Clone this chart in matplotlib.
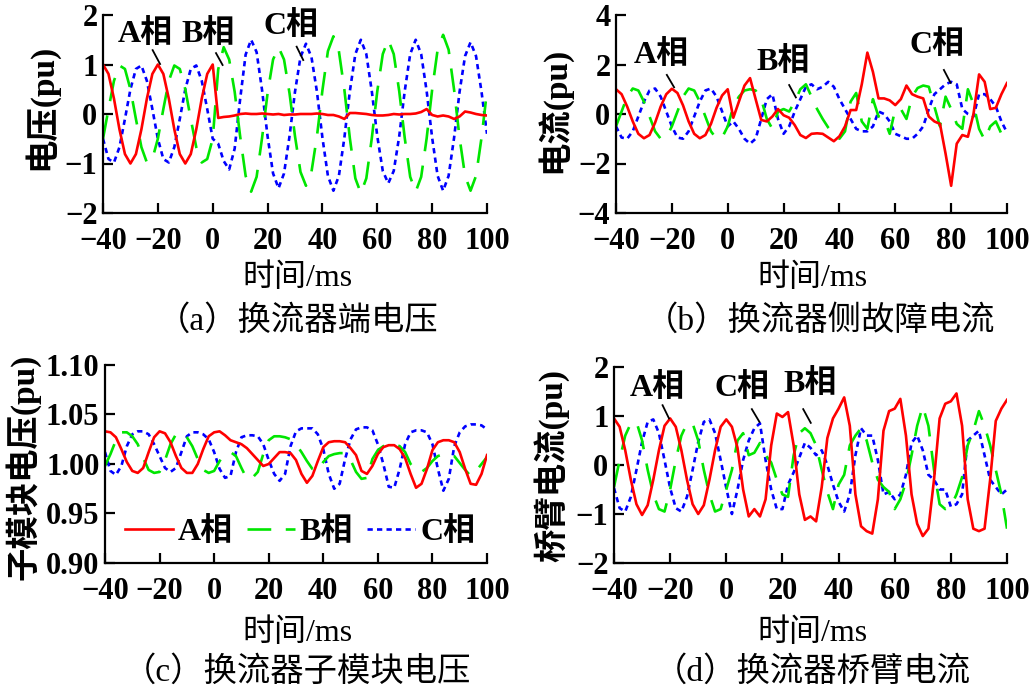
import numpy as np
import matplotlib
matplotlib.use('Agg')
import matplotlib.pyplot as plt

plt.rcParams['font.family'] = ['Liberation Serif', 'Noto Sans CJK SC']
plt.rcParams['axes.unicode_minus'] = True

# time axis, ms (sampled every 2 ms)
t_ms = np.arange(-40, 101, 2)

# (a) converter terminal voltage, pu
va_A = [1.0, 0.81, 0.31, -0.31, -0.81, -1.0, -0.81, -0.31, 0.31, 0.81, 1.0, 0.81, 0.31, -0.31, -0.81, -1.0, -0.81, -0.31, 0.31, 0.81, 1.0,
        -0.08, -0.06, -0.05, -0.03, 0.0, 0.01, 0.0, 0.0, 0.01, 0.0,
        -0.01, 0.0, -0.02, -0.01, -0.01, 0.0, 0.0, 0.0, 0.01, 0.0,
        -0.02, -0.02, -0.05, -0.1, 0.02, 0.02, 0.01, 0.0, -0.02, -0.03,
        -0.03, -0.02, 0.0, -0.01, 0.0, 0.0, 0.01, 0.04, 0.1, -0.02,
        -0.05, -0.03, -0.05, -0.1, -0.05, 0.05, 0.03, 0.0, -0.02, -0.03]
va_B = [-0.5, 0.1, 0.67, 0.98, 0.91, 0.5, -0.1, -0.67, -0.98, -0.91, -0.5, 0.1, 0.67, 0.98, 0.91, 0.5, -0.1, -0.67, -0.98, -0.91, -0.5,
        0.9, 1.35, 1.1, 0.45, -0.45, -1.25, -1.57, -1.27, -0.48, 0.42,
        1.1, 1.35, 1.1, 0.42, -0.45, -1.17, -1.45, -1.17, -0.45, 0.48,
        1.27, 1.57, 1.27, 0.49, -0.49, -1.3, -1.6, -1.3, -0.49, 0.46,
        1.21, 1.5, 1.21, 0.46, -0.48, -1.27, -1.57, -1.27, -0.49, 0.49,
        1.3, 1.6, 1.3, 0.49, -0.48, -1.25, -1.55, -1.25, -0.48, 0.46]
va_C = [-0.5, -0.91, -0.98, -0.67, -0.1, 0.5, 0.91, 0.98, 0.67, 0.1, -0.5, -0.91, -0.98, -0.67, -0.1, 0.5, 0.91, 0.98, 0.67, 0.1, -0.5,
        -0.6, -0.95, -1.12, -0.7, 0.3, 1.2, 1.5, 1.25, 0.48, -0.45,
        -1.2, -1.5, -1.2, -0.45, 0.45, 1.15, 1.42, 1.15, 0.45, -0.48,
        -1.25, -1.55, -1.25, -0.48, 0.46, 1.21, 1.5, 1.21, 0.46, -0.45,
        -1.15, -1.4, -1.15, -0.45, 0.46, 1.21, 1.5, 1.21, 0.46, -0.48,
        -1.25, -1.55, -1.25, -0.48, 0.45, 1.17, 1.45, 1.17, 0.45, -0.4]

# (b) converter-side fault current, pu
ib_A = [1.0, 0.8, 0.3, -0.3, -0.8, -0.98, -0.85, -0.35, 0.3, 0.8, 1.02, 0.85, 0.35, -0.3, -0.8, -0.98, -0.85, -0.4, 0.25, 0.75, 1.0,
        -0.15, 0.5, 1.15, 1.45, 0.6, -0.24, -0.3, -0.1, 0.2, -0.05,
        -0.15, -0.45, -0.85, -0.97, -0.8, -0.78, -0.8, -0.95, -1.1, -0.9,
        -0.5, 0.16, 0.16, 1.2, 2.48, 1.7, 0.63, 0.63, 0.55, 0.36,
        0.6, 1.15, 0.8, 0.7, 0.63, -0.1, -0.3, -0.4, -1.6, -2.9,
        -1.2, -0.85, -0.92, 0.0, 1.6, 1.3, 0.2, 0.25, 0.8, 1.25]
ib_B = [-0.5, 0.1, 0.7, 1.03, 0.95, 0.5, -0.1, -0.7, -1.0, -0.95, -0.5, 0.1, 0.7, 1.03, 0.95, 0.5, -0.1, -0.7, -1.0, -0.95, -0.5,
        0.3, 0.7, 0.95, 1.0, 0.95, 0.6, -0.2, -0.6, 0.1, 0.2,
        0.1, 0.5, 1.0, 1.2, 0.7, 0.2, -0.2, -0.55, -0.8, -1.0,
        -0.7, 0.5, 0.85, -0.3, -0.6, 0.6, -0.1, -0.2, -0.8, 0.2,
        0.2, -0.2, 0.7, 1.05, 1.15, 1.1, 0.3, -0.5, 0.7, 0.2,
        -0.4, -0.6, 1.0, 0.4, -0.6, -1.05, -0.5, -0.3, -0.8, -0.8]
ib_C = [-0.5, -0.95, -1.0, -0.7, -0.1, 0.5, 0.95, 1.03, 0.7, 0.1, -0.5, -0.95, -1.0, -0.7, -0.1, 0.5, 0.95, 1.03, 0.7, 0.1, -0.5,
        -0.3, -0.6, -1.0, -1.2, -1.0, -0.2, 0.6, 0.8, -0.2, -0.8,
        -0.5, 0.1, 0.6, 1.1, 1.2, 1.0, 1.1, 1.3, 1.1, 0.6,
        0.2, -0.2, -0.6, -0.7, -0.7, -0.5, 0.1, 0.0, -0.3, -0.8,
        -0.9, -1.0, -1.0, -0.8, -0.5, 0.2, 0.8, 1.0, 1.2, 1.3,
        1.2, 0.2, 0.0, -0.1, 0.8, 0.8, 0.6, 0.3, -0.3, -0.75]

# (c) submodule capacitor voltage, pu
vc_A = [1.033, 1.032, 1.027, 1.015, 1.002, 0.993, 0.991, 0.996, 1.012, 1.027, 1.033, 1.031, 1.022, 1.008, 0.996, 0.991, 0.991, 1.0, 1.015, 1.028, 1.032,
        1.033, 1.029, 1.024, 1.022, 1.02, 1.016, 1.01, 1.004, 0.998, 1.0,
        1.006, 1.012, 1.012, 1.011, 1.004, 0.99, 0.981, 0.988, 1.003, 1.017,
        1.022, 1.023, 1.023, 1.022, 1.016, 1.009, 0.993, 0.99, 0.998, 1.01,
        1.017, 1.019, 1.019, 1.015, 1.006, 0.99, 0.976, 0.98, 0.995, 1.014,
        1.022, 1.024, 1.024, 1.022, 1.012, 0.995, 0.98, 0.979, 0.99, 1.009]
vc_B = [0.998, 1.01, 1.024, 1.032, 1.032, 1.028, 1.02, 1.006, 0.994, 0.991, 0.992, 1.004, 1.02, 1.03, 1.032, 1.027, 1.018, 1.005, 0.994, 0.991, 0.993,
        1.003, 1.01, 1.012, 1.008, 0.996, 0.985, 0.986, 0.992, 1.01, 1.024,
        1.028, 1.028, 1.027, 1.025, 1.02, 1.012, 1.003, 0.995, 0.993, 1.002,
        1.008, 1.01, 1.011, 1.011, 1.004, 0.992, 0.985, 0.986, 1.005, 1.014,
        1.018, 1.02, 1.02, 1.018, 1.012, 1.0, 0.993, 0.992, 0.996, 1.003,
        1.008, 1.01, 1.01, 1.008, 1.001, 0.994, 0.988, 0.993, 1.0, 1.007]
vc_C = [1.012, 0.993, 0.989, 0.998, 1.018, 1.03, 1.033, 1.033, 1.03, 1.02, 1.008, 0.996, 0.992, 0.996, 1.012, 1.028, 1.032, 1.032, 1.03, 1.025, 1.012,
        0.995, 0.986, 0.988, 1.012, 1.027, 1.029, 1.029, 1.028, 1.02, 1.004,
        0.99, 0.983, 0.99, 1.018, 1.033, 1.036, 1.036, 1.036, 1.03, 1.015,
        0.99, 0.975, 0.98, 1.005, 1.025, 1.035, 1.037, 1.037, 1.034, 1.02,
        1.0, 0.977, 0.976, 0.995, 1.02, 1.032, 1.034, 1.034, 1.032, 1.02,
        0.995, 0.973, 0.985, 1.018, 1.032, 1.038, 1.04, 1.04, 1.039, 1.035]

# (d) converter arm current, pu
id_A = [0.95, 0.78, 0.3, -0.3, -0.8, -1.02, -0.82, -0.3, 0.3, 0.8, 0.95, 0.78, 0.3, -0.3, -0.8, -1.0, -0.82, -0.3, 0.3, 0.78, 0.93,
        0.78, 0.35, -0.5, -1.05, -0.9, -1.05, -0.7, 0.4, 1.05, 0.98,
        1.08, 0.4, -0.6, -1.12, -1.05, -1.15, -0.45, 0.55, 0.95, 1.15,
        1.38, 0.8, -0.6, -1.25, -1.35, -1.4, -0.7, 0.7, 1.1, 1.15,
        1.35, 0.6, -0.6, -1.2, -1.45, -1.3, -0.3, 0.95, 1.25, 1.3,
        1.46, 0.8, -0.7, -1.3, -1.35, -1.3, -0.3, 0.9, 1.15, 1.33]
id_B = [-0.45, 0.1, 0.6, 0.85, 0.88, 0.5, -0.1, -0.6, -0.9, -0.95, -0.5, 0.1, 0.6, 0.85, 0.85, 0.5, -0.1, -0.6, -0.95, -0.9, -0.5,
        -0.1, 0.5, 0.65, 0.2, 0.25, 0.45, 0.2, 0.05, -0.3, -0.6,
        -0.65, 0.2, 0.65, 0.75, 0.65, 0.4, -0.1, -0.55, -0.9, -0.4,
        -0.2, 0.4, 0.6, 0.75, 0.5, 0.05, -0.3, -0.45, -0.55, -0.9,
        -0.7, -0.35, 0.2, 0.8, 1.2, 0.8, -0.1, -0.8, -0.9, -0.85,
        -0.6, -0.25, 0.4, 0.7, 1.1, 0.8, 0.4, -0.1, -0.6, -1.3]
id_C = [-0.47, -0.88, -0.95, -0.65, -0.1, 0.47, 0.88, 0.93, 0.65, 0.1, -0.47, -0.88, -0.95, -0.65, -0.1, 0.47, 0.88, 0.93, 0.65, 0.1, -0.47,
        -1.0, -0.5, 0.1, 0.5, 0.75, 0.85, 0.1, -0.5, -0.9, -0.9,
        -0.4, -0.15, 0.15, 0.45, 0.35, 0.2, 0.3, 0.0, -0.4, -0.75,
        -0.95, -0.6, 0.2, 0.75, 0.6, 0.6, 0.1, -0.6, -0.55, -0.7,
        -0.6, -0.2, 0.45, 0.6, 0.3, -0.2, -0.3, -0.5, -0.5, -0.85,
        -0.8, -0.6, 0.5, 0.6, 0.7, 0.2, -0.3, -0.45, -0.6, -0.5]

W, H = 1031, 691
fig = plt.figure(figsize=(W / 100, H / 100), dpi=100)


def box(left, right, top, bottom):
    return [left / W, 1 - bottom / H, (right - left) / W, (bottom - top) / H]


def ftext(x, y, s, **kw):
    fig.text(x / W, 1 - y / H, s, ha='center', va='center', **kw)


RED, GREEN, BLUE = '#ff0000', '#00e600', '#0000ff'


def panel(rect, a, b, c, ylim, yticks, fmt):
    ax = fig.add_axes(rect)
    lc, = ax.plot(t_ms, c, color=BLUE, lw=1.9, dashes=(2.0, 1.6))
    lb, = ax.plot(t_ms, b, color=GREEN, lw=1.9, dashes=(9, 5.5))
    la, = ax.plot(t_ms, a, color=RED, lw=1.9)
    ax.set_xlim(-40, 100)
    ax.set_ylim(*ylim)
    ax.set_xticks(range(-40, 101, 20))
    ax.set_yticks(yticks)
    ax.set_yticklabels([fmt.format(v).replace('-', '\u2212') for v in yticks])
    ax.spines['top'].set_visible(False)
    ax.spines['right'].set_visible(False)
    for s in ('left', 'bottom'):
        ax.spines[s].set_linewidth(1.6)
    ax.tick_params(direction='in', length=7, width=1.6, labelsize=22)
    ax.tick_params(axis='x', pad=10)
    ax.tick_params(axis='y', pad=4)
    for lab in ax.get_xticklabels() + ax.get_yticklabels():
        lab.set_fontweight('bold')
    return ax, (la, lb, lc)


def tag(ax, s, xy, p0, p1):
    ax.text(xy[0], xy[1], s, ha='center', va='center', fontsize=23, fontweight='bold')
    ax.plot([p0[0], p1[0]], [p0[1], p1[1]], color='k', lw=1.3)


ax_a, _ = panel(box(103, 487, 15, 213), va_A, va_B, va_C, (-2, 2), [-2, -1, 0, 1, 2], '{:d}')
tag(ax_a, 'A相', (-24.7, 1.62), (-21.9, 1.29), (-19.2, 1.01))
tag(ax_a, 'B相', (-1.5, 1.62), (1.2, 1.23), (3.6, 0.99))
tag(ax_a, 'C相', (28.5, 1.78), (30.6, 1.36), (33.0, 1.09))

ax_b, _ = panel(box(616, 1007, 15, 213), ib_A, ib_B, ib_C, (-4, 4), [-4, -2, 0, 2, 4], '{:d}')
tag(ax_b, 'A相', (-23.6, 2.4), (-21.8, 1.58), (-19.2, 1.08))
tag(ax_b, 'B相', (19.8, 2.12), (22.0, 1.17), (24.4, 0.67))
tag(ax_b, 'C相', (75.1, 2.78), (77.4, 1.78), (79.8, 1.26))

ax_c, lines_c = panel(box(105, 487, 365, 563), vc_A, vc_B, vc_C, (0.90, 1.10),
                      [0.90, 0.95, 1.00, 1.05, 1.10], '{:.2f}')
ax_c.legend(lines_c, ['A相', 'B相', 'C相'], ncol=3, frameon=False, loc='center',
            bbox_to_anchor=(0.51, 0.155), handlelength=1.5,
            handletextpad=0.15, columnspacing=0.45, prop={'weight': 'bold', 'size': 23})

ax_d, _ = panel(box(614, 1007, 367, 563), id_A, id_B, id_C, (-2, 2), [-2, -1, 0, 1, 2], '{:d}')
tag(ax_d, 'A相', (-24.5, 1.58), (-22.7, 1.22), (-20.4, 0.95))
tag(ax_d, 'C相', (5.5, 1.58), (9.1, 1.14), (11.8, 0.88))
tag(ax_d, 'B相', (29.8, 1.65), (27.4, 1.14), (30.1, 0.86))

# axis titles and captions
ftext(40, 107, '电压(pu)', rotation=90, fontsize=24, fontweight='bold')
ftext(553, 110, '电流(pu)', rotation=90, fontsize=24, fontweight='bold')
ftext(23, 467, '子模块电压(pu)', rotation=90, fontsize=24, fontweight='bold')
ftext(551, 466, '桥臂电流(pu)', rotation=90, fontsize=24, fontweight='bold')

for x, y in [(297, 278), (812, 278), (297, 633), (812, 633)]:
    ftext(x, y, '时间/ms', fontsize=23)
ftext(298, 321, '（a）换流器端电压', fontsize=24)
ftext(820, 321, '（b）换流器侧故障电流', fontsize=24)
ftext(297, 672, '（c）换流器子模块电压', fontsize=24)
ftext(812, 672, '（d）换流器桥臂电流', fontsize=24)

fig.savefig('out.png', dpi=100)
